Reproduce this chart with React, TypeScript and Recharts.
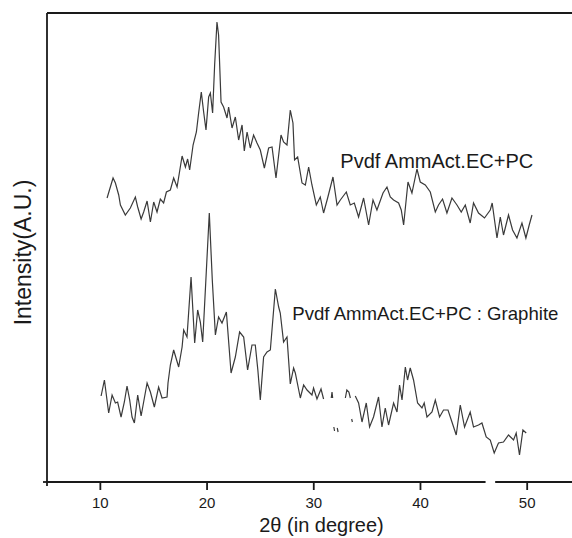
import React from 'react';
import { LineChart, Line, XAxis, YAxis, ReferenceLine, ReferenceDot } from 'recharts';

// 2θ positions (degrees) and intensities (a.u.)
const topAngle = [
  10.63, 11.19, 11.41, 11.72, 11.88, 12.34, 12.81, 13.28, 13.5, 13.82, 14.06, 14.38, 14.69, 15.0, 15.31,
  15.62, 15.93, 16.19, 16.56, 16.87, 17.19, 17.66, 17.97, 18.18, 18.37, 18.69, 19.0, 19.21, 19.46, 19.68,
  19.9, 20.15, 20.31, 20.52, 20.71, 20.93, 21.08, 21.31, 21.55, 21.87, 22.02, 22.34, 22.65, 22.96, 23.28,
  23.49, 23.75, 24.05, 24.36, 24.68, 24.99, 25.37, 25.77, 26.09, 26.46, 26.93, 27.17, 27.49, 27.8, 28.05,
  28.2, 28.49, 28.9, 29.21, 29.52, 29.83, 30.24, 30.61, 30.92, 31.3, 31.8, 32.18, 32.49, 33.05, 33.42,
  33.8, 34.2, 34.67, 35.14, 35.55, 35.92, 36.49, 36.86, 37.17, 37.48, 37.95, 38.2, 38.42, 38.83, 39.2,
  39.67, 39.98, 40.45, 40.92, 41.39, 41.69, 42.07, 42.48, 42.95, 43.42, 43.82, 44.2, 44.66, 44.97, 45.44,
  46.0, 46.54, 46.72, 47.17, 47.48, 47.78, 48.25, 48.63, 49.04, 49.51, 49.88, 50.19, 50.45,
];
const topIntensity = [
  284, 304, 299, 287, 277, 267, 274, 285, 275, 263, 270, 281, 260, 280, 270,
  283, 279, 290, 292, 304, 295, 326, 315, 323, 312, 337, 350, 369, 390, 370,
  352, 385, 389, 369, 417, 460, 447, 380, 375, 364, 375, 354, 365, 342, 357,
  331, 350, 334, 347, 339, 332, 314, 334, 335, 304, 347, 340, 337, 372, 359,
  322, 325, 299, 297, 315, 297, 277, 285, 269, 284, 305, 277, 282, 290, 277,
  279, 265, 284, 257, 282, 272, 289, 295, 285, 282, 279, 272, 257, 300, 289,
  313, 300, 297, 290, 270, 277, 283, 269, 284, 277, 270, 277, 259, 279, 269,
  264, 272, 279, 244, 265, 247, 267, 252, 244, 259, 244, 257, 267,
];

const bottomAngle = [
  10.07, 10.38, 10.78, 11.1, 11.41, 11.62, 11.94, 12.25, 12.5, 12.75, 12.97, 13.19, 13.5, 13.82, 14.38,
  14.69, 15.06, 15.46, 15.78, 16.25, 16.34, 16.56, 16.87, 17.34, 17.66, 17.81, 18.12, 18.5, 18.84, 19.12,
  19.37, 19.59, 19.84, 20.21, 20.49, 20.78, 21.08, 21.4, 21.81, 22.25, 22.65, 23.05, 23.43, 23.8, 24.21,
  24.52, 24.76, 24.99, 25.3, 25.62, 25.93, 26.4, 26.71, 26.86, 27.17, 27.49, 27.8, 28.11, 28.27, 28.74,
  29.05, 29.37, 29.83, 29.98, 30.3, 30.68, 30.92, 31.2, 31.64, 31.71, 31.77, 31.82, 31.88, 31.95, 32.05,
  32.2, 32.28, 32.5, 32.96, 33.1, 33.29, 33.43, 33.5, 33.55, 33.62, 33.7, 33.89, 34.2, 34.52, 34.92,
  35.23, 35.6, 36.07, 36.39, 36.7, 37.01, 37.48, 37.8, 38.04, 38.27, 38.58, 38.79, 39.04, 39.35, 39.73,
  40.14, 40.35, 40.61, 41.08, 41.39, 41.79, 42.16, 42.58, 42.95, 43.35, 43.73, 44.13, 44.66, 44.97, 45.44,
  45.76, 46.16, 46.54, 46.91, 47.31, 47.78, 48.25, 48.72, 48.97, 49.28, 49.6, 49.91,
];
const bottomIntensity = [
  86, 102, 69, 87, 79, 80, 65, 80, 96, 82, 65, 59, 87, 66, 99,
  90, 75, 95, 84, 85, 99, 117, 132, 115, 135, 152, 145, 205, 139, 172,
  160, 140, 192, 269, 202, 147, 165, 159, 170, 109, 125, 150, 145, 112, 137,
  137, 112, 82, 125, 130, 132, 193, 175, 169, 140, 145, 98, 114, 109, 84,
  97, 92, 87, 94, 83, 93, 83, null, 84, 90, 84, null, 55, 51, null,
  54, 50, null, 84, 92, 90, 84, null, 63, 60, null, 86, 79, 60, 79,
  55, 65, 85, 55, 74, 57, 79, 70, 97, 82, 115, 102, 114, 102, 79,
  74, 79, 65, 70, 82, 65, 72, 72, 60, 47, 77, 55, 70, 55, 57,
  59, 45, 42, 29, 39, 40, 47, 42, 49, 27, 52, 49,
];

const xTicks = [5, 10, 20, 30, 40, 50];

const topData = topAngle.map((t, i) => ({ t, i: topIntensity[i] }));
const bottomData = bottomAngle.map((t, i) => ({ t, i: bottomIntensity[i] }));

const FONT = '"Liberation Sans", Arial, Helvetica, sans-serif';
const INK = '#1a1a1a';

function XTick({ x, y, payload }: any) {
  const major = payload.value !== 5;
  return (
    <g>
      <line x1={x} x2={x} y1={y} y2={y + (major ? 8 : 4)} stroke={INK} strokeWidth={1.8} />
      {major && (
        <text x={x} y={y + 26} textAnchor="middle" fontSize={15} fontFamily={FONT} fill={INK}>
          {payload.value}
        </text>
      )}
    </g>
  );
}

function YTick({ x, y }: any) {
  return <line x1={x - 4} x2={x} y1={y} y2={y} stroke={INK} strokeWidth={1.8} />;
}

const note = (text: string, size: number) => (props: any) => {
  const { viewBox } = props;
  return (
    <text x={viewBox.x} y={viewBox.y} dominantBaseline="central" fontSize={size} fontFamily={FONT} fill={INK}>
      {text}
    </text>
  );
};

export default function App() {
  return (
    <div style={{ width: 572, height: 538 }}>
      <style>{'body{margin:0;background:#fff}'}</style>
      <LineChart width={572} height={538} margin={{ top: 13, right: 0, left: 0, bottom: 0 }}>
        <XAxis
          type="number"
          dataKey="t"
          domain={[5, 54.2]}
          ticks={xTicks}
          allowDataOverflow
          axisLine={false}
          tickLine={false}
          tickSize={0}
          tickMargin={0}
          height={56}
          tick={<XTick />}
          label={{
            content: (p: any) => (
              <text
                x={p.viewBox.x + p.viewBox.width / 2 + 12}
                y={p.viewBox.y + 50}
                textAnchor="middle"
                fontSize={20}
                fontFamily={FONT}
                fill={INK}
              >
                2θ (in degree)
              </text>
            ),
          }}
        />
        <YAxis
          type="number"
          domain={[0, 469]}
          ticks={[0]}
          allowDataOverflow
          width={47}
          axisLine={{ stroke: INK, strokeWidth: 1.8 }}
          tickLine={false}
          tickSize={0}
          tickMargin={0}
          tick={<YTick />}
          label={{
            content: (p: any) => (
              <text
                x={23}
                y={p.viewBox.y + p.viewBox.height / 2 + 5}
                transform={`rotate(-90, 23, ${p.viewBox.y + p.viewBox.height / 2 + 5})`}
                textAnchor="middle"
                dominantBaseline="central"
                fontSize={23}
                fontFamily={FONT}
                fill={INK}
              >
                Intensity(A.U.)
              </text>
            ),
          }}
        />
        <ReferenceLine y={469} stroke={INK} strokeWidth={1.8} />
        <ReferenceLine segment={[{ x: 5, y: 0 }, { x: 46.1, y: 0 }]} stroke={INK} strokeWidth={1.8} />
        <ReferenceLine segment={[{ x: 47, y: 0 }, { x: 54.2, y: 0 }]} stroke={INK} strokeWidth={1.8} />
        <Line
          data={topData}
          dataKey="i"
          type="linear"
          stroke="#3a3a3a"
          strokeWidth={1.2}
          dot={false}
          isAnimationActive={false}
        />
        <Line
          data={bottomData}
          dataKey="i"
          type="linear"
          stroke="#3a3a3a"
          strokeWidth={1.2}
          dot={false}
          connectNulls={false}
          isAnimationActive={false}
        />
        <ReferenceDot x={32.49} y={321} r={0} fill="none" stroke="none" label={note('Pvdf AmmAct.EC+PC', 20)} />
        <ReferenceDot x={27.99} y={169} r={0} fill="none" stroke="none" label={note('Pvdf AmmAct.EC+PC : Graphite', 18.6)} />
      </LineChart>
    </div>
  );
}
